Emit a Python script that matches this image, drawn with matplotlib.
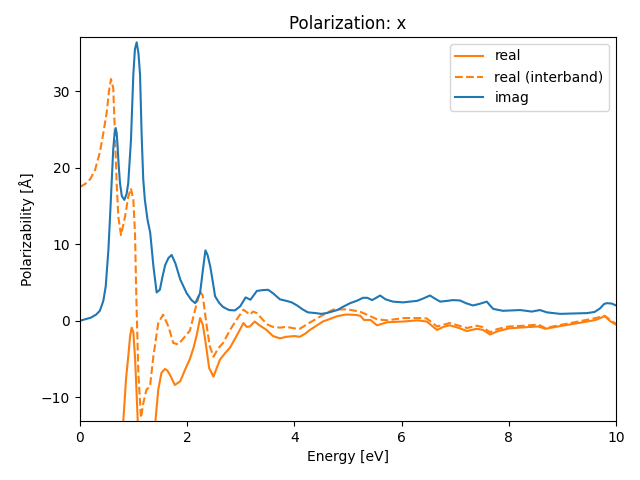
import matplotlib
matplotlib.use('Agg')
import matplotlib.pyplot as plt

# imaginary part
e_imag = [0.0, 0.1, 0.2, 0.3, 0.37, 0.435, 0.48, 0.53, 0.56, 0.59, 0.62, 0.645, 0.666, 0.685,
          0.70, 0.72, 0.746, 0.78, 0.827, 0.87, 0.90, 0.95, 0.995, 1.025, 1.057, 1.09, 1.12,
          1.15, 1.18, 1.21, 1.26, 1.31, 1.37, 1.43, 1.49, 1.54, 1.59, 1.65, 1.71, 1.78, 1.87,
          1.99, 2.08, 2.15, 2.24, 2.29, 2.34, 2.38, 2.43, 2.48, 2.52, 2.6, 2.67, 2.78, 2.89,
          2.99, 3.09, 3.18, 3.30, 3.4, 3.51, 3.6, 3.73, 3.85, 3.95, 4.05, 4.15, 4.25, 4.4,
          4.5, 4.6, 4.8, 4.9, 5.04, 5.16, 5.28, 5.36, 5.45, 5.6, 5.7, 5.84, 6.03, 6.15, 6.29,
          6.4, 6.53, 6.62, 6.72, 6.85, 6.96, 7.09, 7.2, 7.33, 7.45, 7.59, 7.65, 7.71, 7.89,
          8.05, 8.21, 8.32, 8.43, 8.58, 8.71, 8.96, 9.2, 9.46, 9.6, 9.7, 9.78, 9.83, 9.92, 10.0]
imag = [0.0, 0.2, 0.4, 0.8, 1.3, 2.6, 4.5, 9.3, 13.5, 18.0, 22.4, 24.5, 25.2, 24.5,
        23.0, 20.5, 18.0, 16.3, 15.8, 16.6, 18.0, 23.5, 32.2, 35.5, 36.4, 35.0, 32.2,
        24.3, 18.5, 15.8, 13.2, 11.5, 7.1, 3.7, 4.05, 5.8, 7.3, 8.2, 8.6, 7.5, 5.4,
        3.6, 2.7, 2.3, 3.6, 6.5, 9.2, 8.6, 7.1, 5.0, 3.2, 2.3, 1.8, 1.4, 1.35,
        1.9, 3.05, 2.75, 3.9, 4.0, 4.05, 3.6, 2.8, 2.6, 2.4, 2.0, 1.5, 1.1, 1.0,
        0.9, 1.0, 1.4, 1.8, 2.3, 2.6, 3.0, 3.0, 2.7, 3.3, 2.8, 2.5, 2.4, 2.5, 2.6,
        2.9, 3.3, 2.9, 2.5, 2.6, 2.7, 2.65, 2.3, 2.0, 2.2, 2.5, 2.0, 1.55, 1.3,
        1.35, 1.4, 1.3, 1.2, 1.4, 1.1, 0.9, 0.95, 1.0, 1.15, 1.6, 2.2, 2.3, 2.25, 2.0]

# real part (total)
e_real = [0.70, 0.81, 0.86, 0.90, 0.935, 0.964, 0.995, 1.026, 1.05, 1.076, 1.15, 1.35, 1.41,
          1.46, 1.52, 1.586, 1.63, 1.68, 1.77, 1.87, 1.96, 2.05, 2.12, 2.18, 2.24, 2.29, 2.33,
          2.41, 2.49, 2.55, 2.61, 2.70, 2.80, 2.92, 3.05, 3.11, 3.17, 3.26, 3.35, 3.48, 3.6,
          3.73, 3.85, 4.0, 4.1, 4.2, 4.29, 4.4, 4.53, 4.65, 4.8, 4.95, 5.04, 5.15, 5.23, 5.3,
          5.42, 5.54, 5.73, 6.03, 6.29, 6.47, 6.66, 6.78, 6.9, 7.05, 7.22, 7.4, 7.52, 7.65,
          7.78, 8.0, 8.3, 8.55, 8.68, 9.0, 9.3, 9.62, 9.79, 9.9, 10.0]
real = [-25.0, -12.9, -7.5, -4.7, -2.0, -0.9, -1.5, -4.7, -8.5, -12.9, -25.0, -25.0, -12.9,
        -9.0, -6.8, -6.3, -6.5, -7.1, -8.4, -7.9, -6.4, -5.0, -3.5, -1.8, 0.35, -0.5, -2.2,
        -6.2, -7.3, -6.2, -5.1, -4.3, -3.5, -2.0, -0.3, -0.8, -0.75, -0.1, -0.6, -1.2, -2.0,
        -2.3, -2.1, -2.0, -2.1, -1.7, -1.2, -0.7, -0.1, 0.2, 0.6, 0.8, 0.8, 0.75, 0.65, 0.1,
        0.1, -0.6, -0.2, -0.1, 0.05, -0.1, -1.2, -0.8, -0.6, -0.9, -1.35, -1.05, -1.2, -1.8,
        -1.4, -1.0, -0.85, -0.75, -1.05, -0.65, -0.3, 0.1, 0.6, -0.1, -0.5]

# real part, interband only
e_inter = [0.0, 0.1, 0.19, 0.28, 0.37, 0.43, 0.50, 0.54, 0.578, 0.62, 0.653, 0.684, 0.715,
           0.765, 0.84, 0.90, 0.95, 0.995, 1.026, 1.045, 1.057, 1.088, 1.138, 1.18, 1.24,
           1.306, 1.368, 1.46, 1.55, 1.65, 1.74, 1.83, 1.93, 2.05, 2.15, 2.24, 2.29, 2.36,
           2.42, 2.49, 2.58, 2.67, 2.8, 2.92, 3.05, 3.17, 3.23, 3.3, 3.41, 3.5, 3.6, 3.73,
           3.85, 4.0, 4.1, 4.25, 4.48, 4.72, 4.98, 5.22, 5.35, 5.54, 5.73, 6.03, 6.35, 6.47,
           6.66, 6.9, 7.22, 7.4, 7.5, 7.65, 7.78, 8.0, 8.3, 8.55, 8.68, 9.0, 9.3, 9.62, 9.79,
           9.9, 10.0]
inter = [17.5, 17.9, 18.5, 19.7, 22.0, 24.3, 27.3, 30.0, 31.6, 30.4, 24.3, 18.0, 13.6,
         11.2, 13.6, 16.2, 17.3, 15.8, 11.5, 5.0, 1.5, -6.8, -12.7, -10.8, -9.0,
         -8.6, -4.7, -0.3, 0.8, -0.75, -2.9, -3.1, -2.3, -1.3, 1.5, 3.8, 3.3, -0.5,
         -3.3, -4.7, -3.6, -2.9, -1.2, 0.13, 1.45, 0.8, 1.2, 1.0, 0.13, -0.5, -0.8, -0.9,
         -0.8, -1.0, -1.05, -0.4, 0.55, 1.45, 1.5, 1.2, 0.8, 0.2, 0.05, 0.35, 0.35, 0.3,
         -0.75, -0.3, -0.95, -0.65, -0.8, -1.5, -1.1, -0.75, -0.65, -0.5, -0.95, -0.5, -0.1,
         0.35, 0.65, 0.05, -0.4]

fig, ax = plt.subplots(figsize=(6.4, 4.8), dpi=100)
ax.plot(e_real, real, color='C1', label='real')
ax.plot(e_inter, inter, color='C1', ls='--', label='real (interband)')
ax.plot(e_imag, imag, color='C0', label='imag')
ax.set_xlim(0, 10)
ax.set_ylim(-13.1, 37.1)
ax.set_title('Polarization: x')
ax.set_xlabel('Energy [eV]')
ax.set_ylabel('Polarizability [Å]')
ax.legend(loc='upper right')
fig.subplots_adjust(left=0.125, right=0.9625, top=0.923, bottom=0.123)
plt.savefig('out.png')
